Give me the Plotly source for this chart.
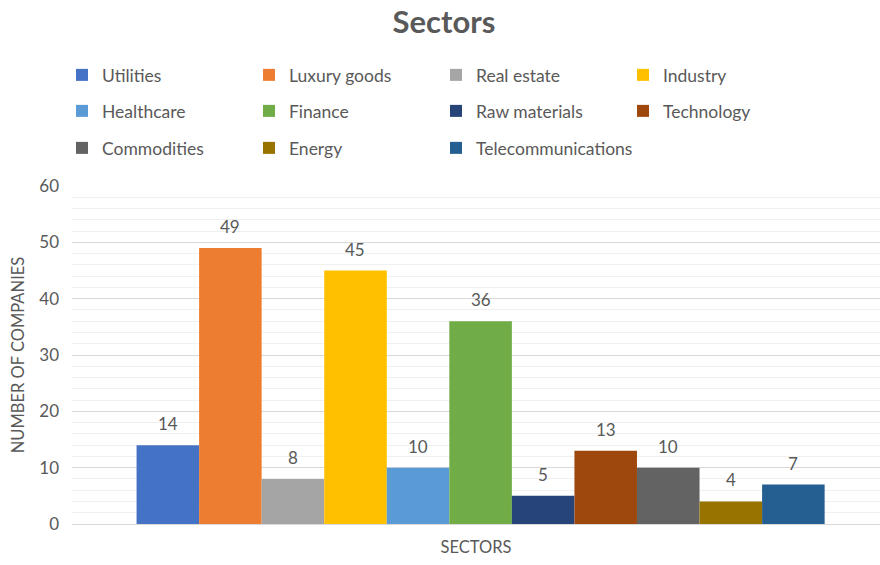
import plotly.graph_objects as go

# Company counts per sector
sectors = ["Utilities", "Luxury goods", "Real estate", "Industry", "Healthcare",
           "Finance", "Raw materials", "Technology", "Commodities", "Energy",
           "Telecommunications"]
counts = [14, 49, 8, 45, 10, 36, 5, 13, 10, 4, 7]
colors = ["#4472C4", "#ED7D31", "#A5A5A5", "#FFC000", "#5B9BD5", "#70AD47",
          "#264478", "#9E480E", "#636363", "#997300", "#255E91"]
y_ticks = [0, 10, 20, 30, 40, 50, 60]

FONT = "Lato, 'Open Sans', sans-serif"
GREY = "#595959"
W, H = 880, 565
BARGAP = 0.158
PER_ROW = 4
COL_W = 186          # legend column pitch in px
LEG_X0 = 62          # left edge of the legend block in px
ROW_Y = [75, 111, 148]

fig = go.Figure()
n = len(sectors)
slot = (1 - BARGAP) / n

# legend rows; the last entry gets its own box so its long name is not clipped
legend_specs = {}
trace_legend = []
for i in range(n):
    row, col = divmod(i, PER_ROW)
    last = i == n - 1 and col > 0
    key = "legend" if (row == 0 and not last) else f"legend{row + 1}"
    if last:
        key = f"legend{len(ROW_Y) + 1}"
    trace_legend.append(key)
    if key not in legend_specs:
        legend_specs[key] = dict(
            orientation="h", entrywidth=COL_W - 44 if not last else 220,
            entrywidthmode="pixels", xref="container", yref="container",
            x=(LEG_X0 + (col * COL_W + 2 if last else 0)) / W, xanchor="left",
            y=1 - ROW_Y[row] / H, yanchor="middle", bgcolor="rgba(0,0,0,0)",
            font=dict(family=FONT, size=17.5, color=GREY),
        )

for i, (name, val, col) in enumerate(zip(sectors, counts, colors)):
    fig.add_trace(go.Bar(
        x=[0], y=[val], name=name, marker=dict(color=col, line=dict(width=0)),
        legend=trace_legend[i],
        hovertemplate=name + ": %{y}<extra></extra>",
    ))
    # value label above each column
    fig.add_annotation(
        x=(i - (n - 1) / 2) * slot, y=val, text=str(val), showarrow=False,
        yanchor="bottom", yshift=9, font=dict(family=FONT, size=17, color=GREY),
    )

fig.update_layout(
    width=W, height=H,
    margin=dict(l=72, r=0, t=186, b=41),
    paper_bgcolor="white", plot_bgcolor="white",
    barmode="group", bargap=BARGAP, bargroupgap=0,
    title=dict(text="<b>Sectors</b>", x=444 / W, xanchor="center",
               y=1 - 22 / H, yanchor="middle",
               font=dict(family=FONT, size=31, color=GREY)),
    font=dict(family=FONT, color=GREY),
    showlegend=True,
    **legend_specs,
)

fig.update_xaxes(
    range=[-0.5, -0.5 + 808 / 817.2], showticklabels=False,
    showgrid=False, zeroline=False, showline=False, fixedrange=True,
    title=dict(text="SECTORS", standoff=17, font=dict(family=FONT, size=16.5, color=GREY)),
)
fig.update_yaxes(
    range=[0, 60], tickvals=y_ticks, showgrid=True, gridcolor="#D9D9D9", gridwidth=1,
    zeroline=True, zerolinecolor="#D9D9D9", zerolinewidth=1, showline=False,
    minor=dict(dtick=2, showgrid=True, gridcolor="#F0F0F0", gridwidth=1),
    ticks="", ticklabelstandoff=12,
    tickfont=dict(family=FONT, size=17, color=GREY),
    title=dict(text="NUMBER OF COMPANIES", standoff=10,
               font=dict(family=FONT, size=16.5, color=GREY)),
)

fig.write_html("out.html")
